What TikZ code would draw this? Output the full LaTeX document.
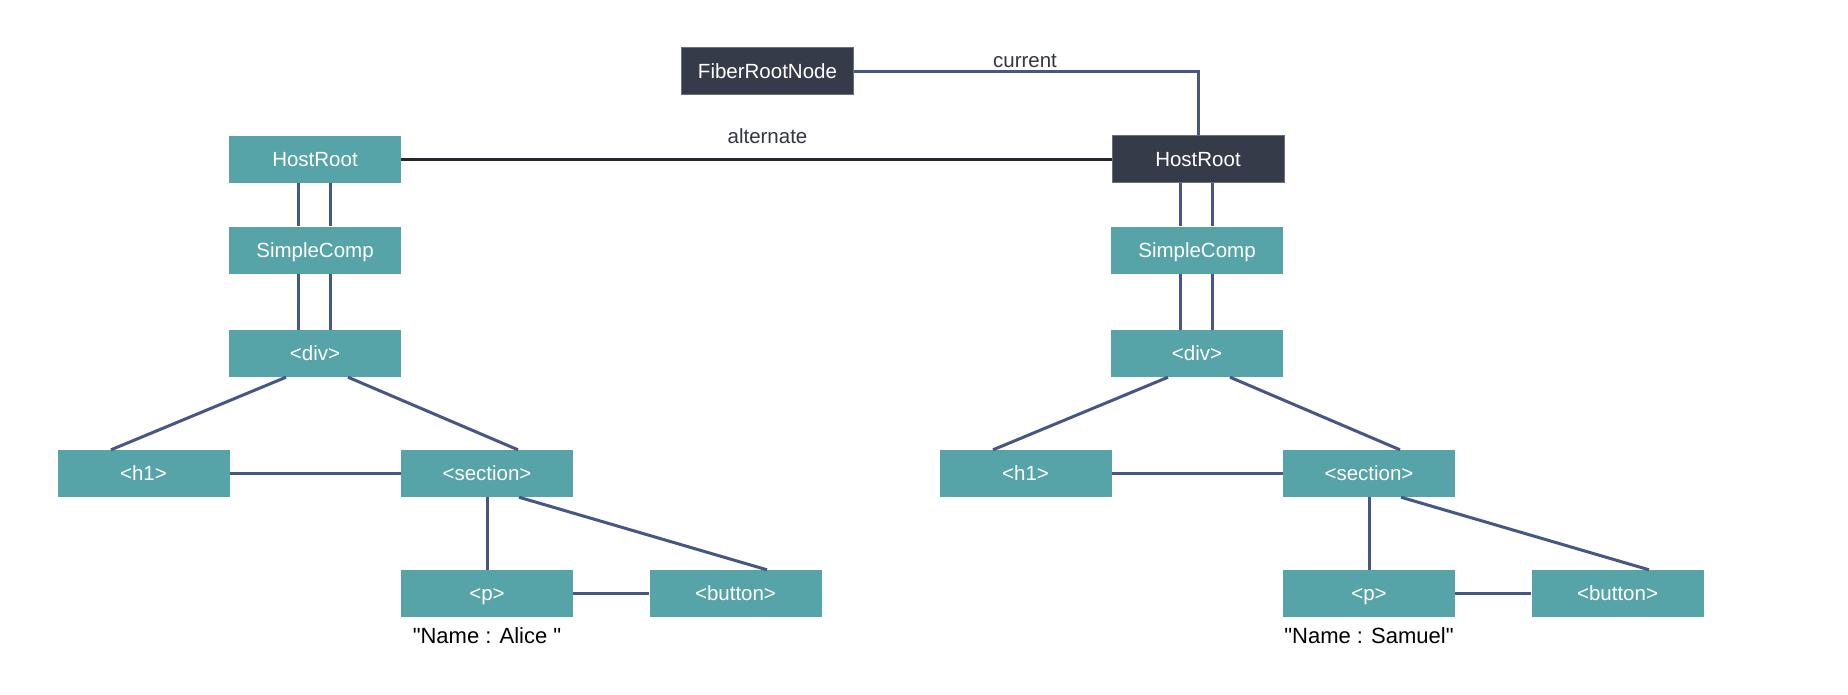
\documentclass[tikz,border=0pt]{standalone}
\usepackage{fontspec}
\setmainfont{Liberation Sans}[Ligatures=TeXOff]
\definecolor{teal}{HTML}{56A3A8}
\definecolor{darkbox}{HTML}{363B4A}
\definecolor{darkedge}{HTML}{6A6F7A}
\definecolor{linkblue}{HTML}{465685}
\definecolor{labelgray}{HTML}{333740}
\definecolor{altline}{HTML}{23272E}
\begin{document}
\begin{tikzpicture}[x=1pt,y=-1pt,
  fiber/.style={rectangle, fill=teal, text=white, minimum width=172pt, minimum height=47pt, inner sep=0pt, text height=14.7pt, text depth=0pt, font=\fontsize{20.5}{24}\selectfont},
  rootbox/.style={fiber, fill=darkbox, draw=darkedge, line width=0.8pt},
  link/.style={draw=linkblue, line width=3pt},
  altlink/.style={draw=altline, line width=3pt},
  edgelabel/.style={text=labelgray, font=\fontsize{20.5}{24}\selectfont, inner sep=0pt},
  valuetext/.style={text=black, font=\fontsize{22}{26}\selectfont, inner sep=0pt}
]
\useasboundingbox (0,0) rectangle (1848,694);
\fill[white] (0,0) rectangle (1848,694);

% top
\node[rootbox] (frn) at (767.5,71) {FiberRootNode};

% left tree
\node[fiber] (hrL) at (315,159) {HostRoot};
\node[fiber] (scL) at (315,250) {SimpleComp};
\node[fiber] (divL) at (315,353.5) {<div>};
\node[fiber] (h1L) at (143.5,473.5) {<h1>};
\node[fiber] (secL) at (487,473.5) {<section>};
\node[fiber] (pL) at (487,593.5) {<p>};
\node[fiber] (btnL) at (735.5,593.5) {<button>};
\node[valuetext] (valL) at (487,636) {"Name : Alice "};

% right tree
\node[rootbox] (hrR) at (1198,159) {HostRoot};
\node[fiber] (scR) at (1197,250) {SimpleComp};
\node[fiber] (divR) at (1197,353.5) {<div>};
\node[fiber] (h1R) at (1025.5,473.5) {<h1>};
\node[fiber] (secR) at (1369,473.5) {<section>};
\node[fiber] (pR) at (1369,593.5) {<p>};
\node[fiber] (btnR) at (1617.5,593.5) {<button>};
\node[valuetext] (valR) at (1369,636) {"Name : Samuel"};

% root links
\coordinate (corner) at (hrR.north |- frn.east);
\draw[link] (frn.east) -- (corner) -- (hrR.north);
\node[edgelabel, anchor=base] (curlbl) at (1025,67) {current};
\draw[altlink] (hrL.east) -- (hrR.west);
\node[edgelabel, anchor=base] (altlbl) at (767.5,143) {alternate};

% tree links
\foreach \t in {L,R}{
  \draw[link] ([xshift=-17pt]sc\t.north |- hr\t.south) -- ([xshift=-17pt]sc\t.north);
  \draw[link] ([xshift=15pt]sc\t.north |- hr\t.south) -- ([xshift=15pt]sc\t.north);
  \draw[link] ([xshift=-17pt]sc\t.south) -- ([xshift=-17pt]div\t.north);
  \draw[link] ([xshift=15pt]sc\t.south) -- ([xshift=15pt]div\t.north);
  \draw[link] ([xshift=-29pt]div\t.south) -- ([xshift=-32.5pt]h1\t.north);
  \draw[link] ([xshift=33pt]div\t.south) -- ([xshift=31pt]sec\t.north);
  \draw[link] (h1\t.east) -- (sec\t.west);
  \draw[link] (sec\t.south) -- (p\t.north);
  \draw[link] ([xshift=32pt]sec\t.south) -- ([xshift=31.5pt]btn\t.north);
  \draw[link] (p\t.east) -- (btn\t.west);
}
\end{tikzpicture}
\end{document}
